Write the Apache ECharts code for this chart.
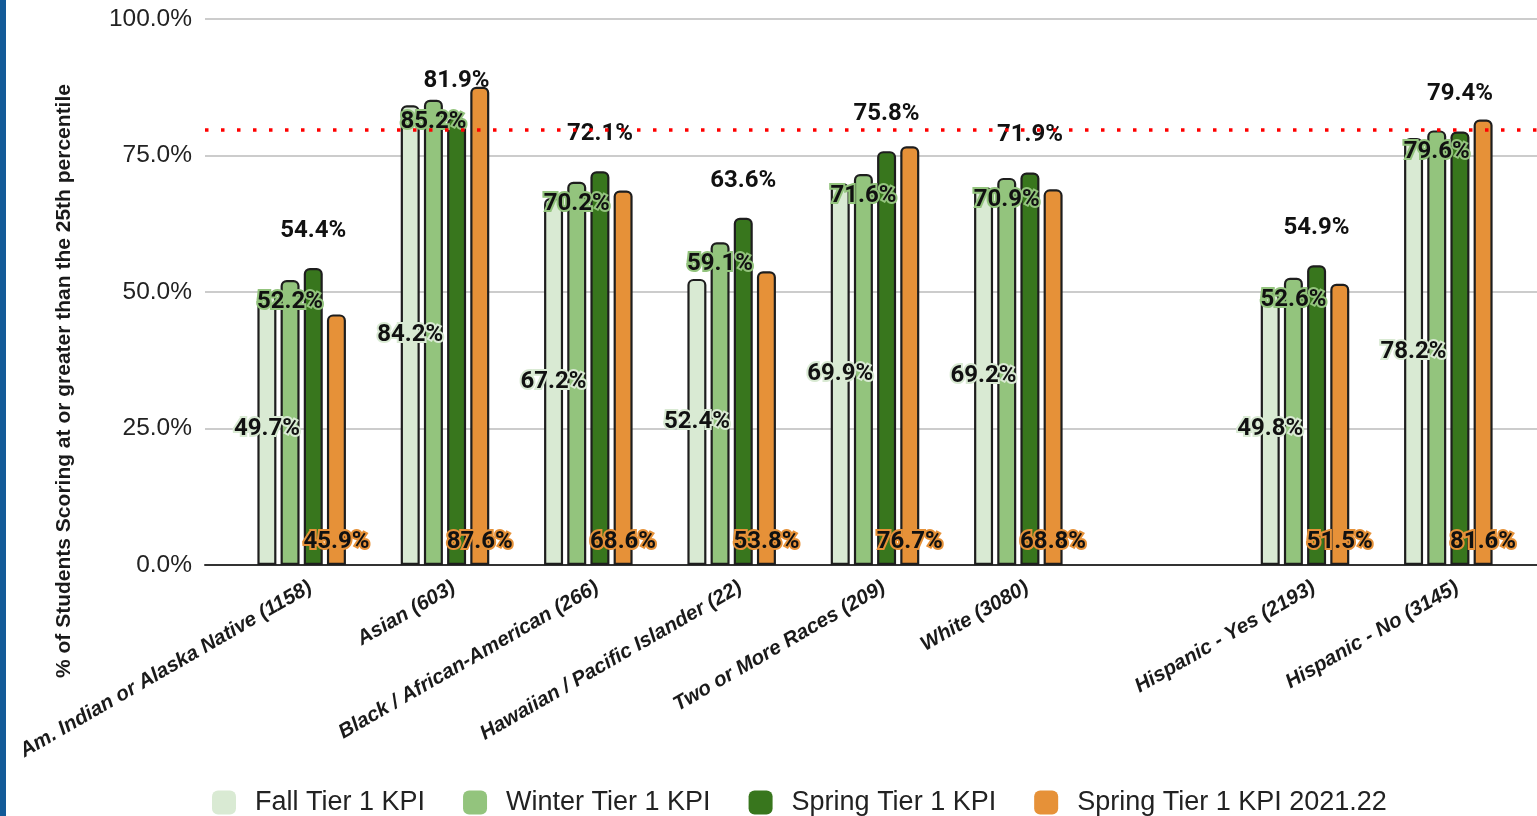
<!DOCTYPE html>
<html><head><meta charset="utf-8">
<script src="https://cdn.jsdelivr.net/npm/echarts@6/dist/echarts.min.js"></script>
<style>html,body{margin:0;padding:0;background:#fff}#c{width:1537px;height:816px}</style>
</head><body><div id="c"></div>
<script>
const categories = ['Am. Indian or Alaska Native (1158)','Asian (603)','Black / African-American (266)','Hawaiian / Pacific Islander (22)','Two or More Races (209)','White (3080)','','Hispanic - Yes (2193)','Hispanic - No (3145)'];
const fallKPI   = [49.7, 84.2, 67.2, 52.4, 69.9, 69.2, null, 49.8, 78.2];
const winterKPI = [52.2, 85.2, 70.2, 59.1, 71.6, 70.9, null, 52.6, 79.6];
const springKPI = [54.4, 81.9, 72.1, 63.6, 75.8, 71.9, null, 54.9, 79.4];
const spring2122 = [45.9, 87.6, 68.6, 53.8, 76.7, 68.8, null, 51.5, 81.6];
const seriesNames = ['Fall Tier 1 KPI','Winter Tier 1 KPI','Spring Tier 1 KPI','Spring Tier 1 KPI 2021.22'];
const targetLine = 79.7;
const yTicks = {min: 0, max: 100, interval: 25};

const colors = ['#d9ead3','#93c47d','#38761d','#e69138'];
const fmt = p => (p.value == null ? '' : p.value.toFixed(1) + '%');
const labelBase = {show: true, fontFamily: 'Roboto', fontWeight: 'bold', fontSize: 24, color: '#111', formatter: fmt};

function bar(name, data, idx, label) {
  return {
    name, type: 'bar', data, xAxisIndex: 1, yAxisIndex: 1,
    barWidth: 19, barGap: '22%',
    itemStyle: {color: colors[idx], borderColor: '#1e1e1e', borderWidth: 2.2, borderRadius: [5,5,0,0]},
    label: Object.assign({}, labelBase, label),
    emphasis: {disabled: true}
  };
}

const chart = echarts.init(document.getElementById('c'), null, {renderer: 'canvas'});
chart.setOption({
  animation: false,
  backgroundColor: '#ffffff',
  graphic: [{type: 'rect', left: 0, top: 0, shape: {width: 6, height: 816}, style: {fill: '#135a98'}}],
  grid: [
    {left: 205, right: 0, top: 19, bottom: 251},
    {left: 230, right: 17, top: 19, bottom: 251}
  ],
  xAxis: [
    {type: 'value', gridIndex: 0, min: 0, max: 1, axisLabel: {show: false}, axisTick: {show: false}, splitLine: {show: false},
     axisLine: {show: true, lineStyle: {color: '#333', width: 2}}},
    {type: 'category', gridIndex: 1, data: categories, axisLine: {show: false}, axisTick: {show: false},
     axisLabel: {rotate: 30, interval: 0, margin: 26, padding: [0, -10, 0, 0], fontFamily: 'Liberation Sans', fontWeight: 'bold', fontStyle: 'italic', fontSize: 20.5, color: '#1a1a1a'}}
  ],
  yAxis: [
    {type: 'value', gridIndex: 0, min: yTicks.min, max: yTicks.max, interval: yTicks.interval,
     axisLine: {show: false}, axisTick: {show: false},
     axisLabel: {formatter: v => v.toFixed(1) + '%', fontFamily: 'Liberation Sans', fontSize: 24.5, color: '#222', margin: 13},
     splitLine: {lineStyle: {color: '#cccccc', width: 2}},
     name: '% of Students Scoring at or greater than the 25th percentile', nameLocation: 'middle', nameGap: 130,
     nameTextStyle: {fontFamily: 'Liberation Sans', fontWeight: 'bold', fontSize: 21, color: '#1a1a1a', padding: [0, 178, 0, 0]}},
    {type: 'value', gridIndex: 1, min: yTicks.min, max: yTicks.max, show: false}
  ],
  legend: {
    left: 212, top: 789, padding: 0, itemWidth: 24, itemHeight: 24, itemGap: 38, icon: 'roundRect',
    itemStyle: {borderWidth: 0},
    textStyle: {fontFamily: 'Liberation Sans', fontSize: 27, color: '#222', padding: [0, 0, 0, 14]},
    data: seriesNames
  },
  series: [
    bar(seriesNames[0], fallKPI, 0, {position: 'inside', textBorderColor: colors[0], textBorderWidth: 4}),
    bar(seriesNames[1], winterKPI, 1, {position: 'insideTop', distance: 10, textBorderColor: colors[1], textBorderWidth: 4}),
    bar(seriesNames[2], springKPI, 2, {position: 'top', distance: 25}),
    bar(seriesNames[3], spring2122, 3, {position: 'insideBottom', distance: 11, textBorderColor: colors[3], textBorderWidth: 4}),
    {type: 'line', xAxisIndex: 0, yAxisIndex: 0, data: [], silent: true,
     markLine: {silent: true, symbol: 'none', label: {show: false},
       lineStyle: {color: '#ff0000', width: 3.5, type: [3.5, 12.5]},
       data: [{yAxis: targetLine}]}}
  ]
});
</script></body></html>
